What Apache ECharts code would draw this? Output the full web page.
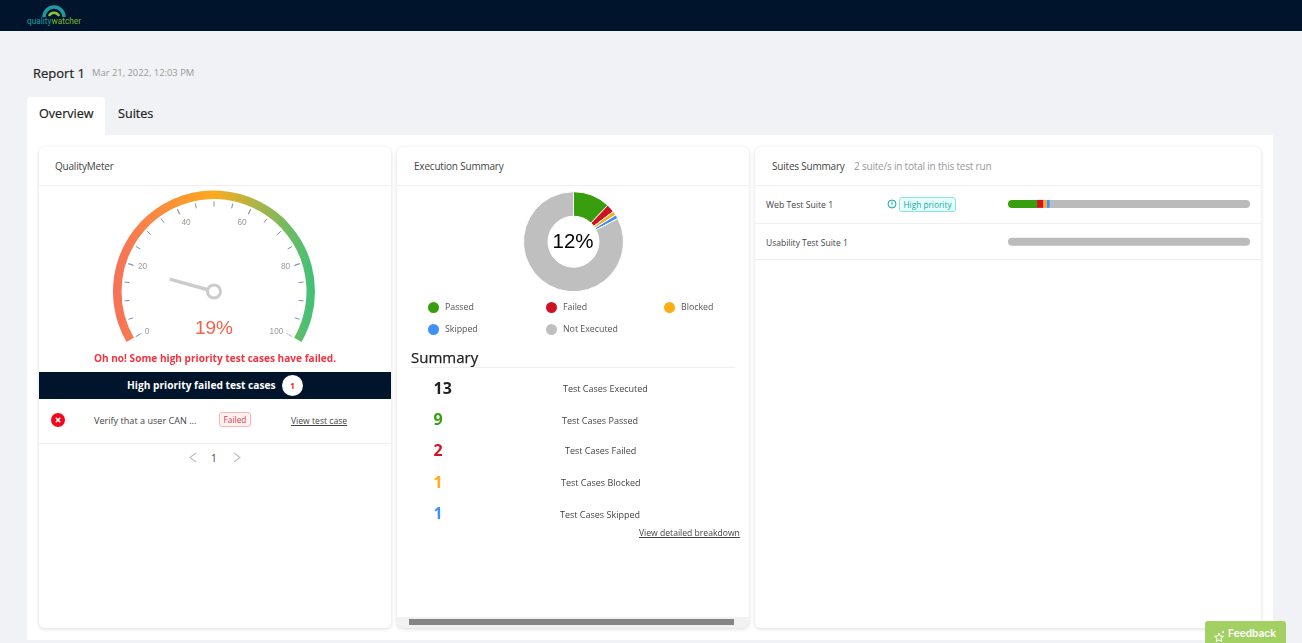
<!DOCTYPE html>
<html><head><meta charset="utf-8">
<script src="https://cdn.jsdelivr.net/npm/echarts@6/dist/echarts.min.js"></script>
<style>
html,body{margin:0;padding:0;width:1302px;height:643px;overflow:hidden;background:#f0f2f5;font-family:"Open Sans","Noto Sans",sans-serif;color:#333}
.a{position:absolute;white-space:nowrap}
.card{position:absolute;background:#fff;border-radius:6px;box-shadow:0 1px 4px rgba(0,0,0,.14);top:147px;height:481px}
.hr{position:absolute;height:1px;background:#efefef}
.t{font-size:10px;color:#444}
.u{text-decoration:underline}
.h{font-size:10px;letter-spacing:-.2px;color:#444}
</style></head><body>
<div class="a" style="left:0;top:0;width:1302px;height:31px;background:#00152b"></div>
<svg class="a" style="left:42px;top:5px" width="24" height="13" viewBox="0 0 24 13"><path d="M2 12A10 10 0 0 1 22 12" fill="none" stroke="#1f9aa3" stroke-width="3.4"/><path d="M7 11A5.5 5.5 0 0 1 17 11" fill="none" stroke="#8cc63f" stroke-width="2.4"/></svg>
<div class="a" style="left:27px;top:16px;font-size:8.3px;font-family:Roboto,sans-serif;color:#1f9aa3">quality<span style="color:#7fba2c">watcher</span></div>

<div class="a" style="left:33px;top:64px;font-size:13px;color:#222;-webkit-text-stroke:.2px #222">Report 1</div>
<div class="a" style="left:92px;top:66px;font-size:9.4px;color:#999">Mar 21, 2022, 12:03 PM</div>

<div class="a" style="left:27px;top:135px;width:1246px;height:505px;background:#fff"></div>
<div class="a" style="left:27px;top:97px;width:78px;height:38px;background:#fff;border-radius:4px 4px 0 0"></div>
<div class="a" style="left:39px;top:105px;font-size:12.6px;color:#222;-webkit-text-stroke:.2px #222">Overview</div>
<div class="a" style="left:118px;top:105px;font-size:12.6px;color:#222;-webkit-text-stroke:.2px #222">Suites</div>

<div class="card" style="left:39px;width:352px"></div>
<div class="card" style="left:397px;width:352px;background:#f1f1f1"></div>
<div class="a" style="left:397px;top:147px;width:352px;height:470px;background:#fff;border-radius:6px 6px 0 0"></div>
<div class="a" style="left:409px;top:619px;width:325px;height:6px;background:#858585"></div>
<div class="card" style="left:755px;width:506px"></div>

<div class="hr" style="left:39px;top:185px;width:352px"></div>
<div class="hr" style="left:397px;top:185px;width:352px"></div>
<div class="hr" style="left:755px;top:185px;width:506px"></div>

<div class="a h" style="left:55px;top:159px">QualityMeter</div>
<div class="a h" style="left:414px;top:159px">Execution Summary</div>
<div class="a h" style="left:772px;top:159px">Suites Summary</div>
<div class="a h" style="left:854px;top:159px;color:#999">2 suite/s in total in this test run</div>

<div id="gauge" class="a" style="left:39px;top:186px;width:352px;height:170px"></div>
<div id="pie" class="a" style="left:398px;top:186px;width:350px;height:154px"></div>
<div id="bars" class="a" style="left:1000px;top:185px;width:258px;height:80px"></div>

<div class="a" style="left:39px;top:351px;width:352px;text-align:center;font-size:10.1px;font-weight:700;color:#f5333f">Oh no! Some high priority test cases have failed.</div>
<div class="a" style="left:39px;top:372px;width:352px;height:27px;background:#00152b"></div>
<div class="a" style="left:127px;top:378px;font-size:10.2px;font-weight:700;color:#fff">High priority failed test cases</div>
<div class="a" style="left:282px;top:375px;width:21px;height:21px;border-radius:50%;background:#fff;color:#f5222d;font-size:8px;font-weight:700;text-align:center;line-height:21px">1</div>
<svg class="a" style="left:51px;top:413px" width="14" height="14"><circle cx="7" cy="7" r="7" fill="#f5051d"/><path d="M4.8 4.8L9.2 9.2M9.2 4.8L4.8 9.2" stroke="#fff" stroke-width="1.6"/></svg>
<div class="a t" style="left:94px;top:414px;font-size:9.1px">Verify that a user CAN ...</div>
<div class="a" style="left:219px;top:412px;width:30px;height:13px;border:1px solid #ffb3b8;background:#fff1f0;border-radius:3px;color:#d9404c;font-size:8.3px;text-align:center;line-height:13px">Failed</div>
<div class="a t u" style="left:291px;top:415px;font-size:8.6px">View test case</div>
<div class="hr" style="left:39px;top:443px;width:352px"></div>
<svg class="a" style="left:188px;top:452px" width="10" height="11"><path d="M8 1L2 5.5L8 10" fill="none" stroke="#bbb" stroke-width="1.1"/></svg>
<div class="a" style="left:211px;top:451px;font-size:10px;color:#444">1</div>
<svg class="a" style="left:232px;top:452px" width="10" height="11"><path d="M2 1L8 5.5L2 10" fill="none" stroke="#bbb" stroke-width="1.1"/></svg>

<div class="a" style="left:411px;top:347px;font-size:15px;color:#222;-webkit-text-stroke:.25px #222">Summary</div>
<div class="hr" style="left:411px;top:367px;width:324px"></div>
<div id="summary"></div>
<div class="a t u" style="left:639px;top:527px;font-size:8.6px">View detailed breakdown</div>

<div class="a t" style="left:766px;top:199px;font-size:8.7px">Web Test Suite 1</div>
<div class="a t" style="left:766px;top:237px;font-size:8.5px">Usability Test Suite 1</div>
<svg class="a" style="left:887px;top:199px" width="10" height="10"><circle cx="5" cy="5" r="4" fill="none" stroke="#13a8a8" stroke-width="1"/><path d="M5 2.6V5.6M5 6.6V7.5" stroke="#13a8a8" stroke-width="1"/></svg>
<div class="a" style="left:899px;top:197px;width:55px;height:13px;border:1px solid #87e8de;background:#e6fffb;border-radius:3px;color:#13a8a8;font-size:8.3px;text-align:center;line-height:13px">High priority</div>
<div class="hr" style="left:755px;top:223px;width:506px"></div>
<div class="hr" style="left:755px;top:259px;width:506px"></div>

<div class="a" style="left:1205px;top:621px;width:81px;height:22px;background:#a3d063;border-radius:3px 3px 0 0"></div>
<svg class="a" style="left:1214px;top:630px" width="12" height="12" viewBox="0 0 12 12"><path d="M5 3L6.2 6L9.5 6.3L7 8.4L7.8 11.5L5 9.9L2.2 11.5L3 8.4L.5 6.3L3.8 6Z" fill="none" stroke="#fff"/><circle cx="9" cy="2" r="1" fill="#fff"/></svg>
<div class="a" style="left:1228px;top:627px;font-size:10.2px;font-weight:600;color:#fff;font-family:Inter,sans-serif">Feedback</div>

<script>
// ---- Data ----
var qualityScore = 19;
var executedPercent = '12%';
var statusNames = ['Passed', 'Failed', 'Blocked', 'Skipped', 'Not Executed'];
var statusCounts = [9, 2, 1, 1, 62];
var statusColors = ['#389e0d', '#cf1322', '#faad14', '#4091f7', '#bfbfbf'];
var suiteNames = ['Web Test Suite 1', 'Usability Test Suite 1'];
var suitePassed = [12, 0];
var suiteFailed = [2.7, 0];
var suiteBlocked = [1.3, 0];
var suiteSkipped = [1.3, 0];
var suiteNotExecuted = [82.7, 100];
var summaryLabels = ['Test Cases Executed', 'Test Cases Passed', 'Test Cases Failed', 'Test Cases Blocked', 'Test Cases Skipped'];
var summaryValues = [13, 9, 2, 1, 1];
var summaryColors = ['#222', '#389e0d', '#cf1322', '#faad14', '#4091f7'];
// ---- Layout ----
var summaryNumX = [433.5, 433.5, 433.5, 433.5, 433.5];
var summaryTextX = [563, 562, 565, 561, 560];
var summaryY = [389, 420, 451, 483, 514];
var summaryTextY = [388, 420, 450, 482, 514];
var legendPos = [[28, 114], [146, 114], [264, 114], [28, 136], [146, 136]];

var html = '';
summaryValues.forEach(function (v, i) {
  html += '<div class="a" style="left:' + summaryNumX[i] + 'px;top:' + (summaryY[i] - 12) + 'px;font-size:16px;font-weight:700;color:' + summaryColors[i] + '">' + v + '</div>';
  html += '<div class="a t" style="left:' + summaryTextX[i] + 'px;top:' + (summaryTextY[i] - 6) + 'px;font-size:9px">' + summaryLabels[i] + '</div>';
});
document.getElementById('summary').innerHTML = html;

// Gauge
echarts.init(document.getElementById('gauge')).setOption({
  animation: false,
  series: [{
    type: 'gauge', center: [175, 105.5], radius: 101, startAngle: 210, endAngle: -30,
    min: 0, max: 100, splitNumber: 5,
    axisLine: { lineStyle: { width: 8.5, color: [[1, new echarts.graphic.LinearGradient(0, 0, 1, 0, [
      { offset: 0, color: '#f6705a' }, { offset: .5, color: '#fdab1f' }, { offset: 1, color: '#3ec17a' }])]] } },
    axisTick: { splitNumber: 4, distance: 2.5, length: 5, lineStyle: { color: '#7d93ad', width: 1 } },
    splitLine: { distance: 2, length: 7, lineStyle: { color: '#d3d3d3', width: 1 } },
    axisLabel: { distance: 12, color: '#999', fontSize: 8.2, fontFamily: 'Liberation Sans' },
    pointer: { length: 46, width: 3.5, offsetCenter: [0, 0], icon: 'rect', itemStyle: { color: '#cccccc' } },
    anchor: { show: true, showAbove: true, size: 13, itemStyle: { color: '#fff', borderColor: '#cccccc', borderWidth: 3 } },
    title: { show: false },
    detail: { valueAnimation: false, formatter: '{value}%', offsetCenter: [0, 37], color: '#f4604a', fontSize: 19, fontWeight: 300, fontFamily: 'Liberation Sans' },
    data: [{ value: qualityScore }]
  }]
});

// Donut with one positioned legend per item
echarts.init(document.getElementById('pie')).setOption({
  animation: false,
  color: statusColors,
  legend: statusNames.map(function (n, i) {
    return { data: [n], left: legendPos[i][0], top: legendPos[i][1], padding: 0, icon: 'circle', itemWidth: 13, itemHeight: 13, itemGap: 4,
      textStyle: { color: '#555', fontSize: 8.8, fontFamily: 'Open Sans', padding: [0, 0, 3, 0] } };
  }),
  graphic: { type: 'text', left: 'center', top: 46, style: { text: executedPercent, fontSize: 20.5, fontFamily: 'Liberation Sans', fill: '#000' } },
  series: [{
    type: 'pie', center: [175.5, 55.7], radius: [25.5, 50], startAngle: 90, silent: true,
    label: { show: false }, labelLine: { show: false },
    itemStyle: { borderColor: '#fff', borderWidth: 1 },
    data: statusNames.map(function (n, i) { return { name: n, value: statusCounts[i] }; })
  }]
});

// Suite progress bars
var suiteRows = [suitePassed, suiteFailed, suiteBlocked, suiteSkipped, suiteNotExecuted];
echarts.init(document.getElementById('bars')).setOption({
  animation: false,
  grid: { left: 8, right: 8, top: 0, height: 75.6 },
  xAxis: { type: 'value', min: 0, max: 100, show: false },
  yAxis: { type: 'category', data: suiteNames, inverse: true, show: false },
  series: suiteRows.map(function (vals, s) {
    return {
      type: 'bar', name: statusNames[s], stack: 'suite', barWidth: 8, silent: true,
      itemStyle: { color: statusColors[s] === '#bfbfbf' ? '#bbbbbb' : statusColors[s] },
      data: vals.map(function (v, r) {
        var rowVals = suiteRows.map(function (x) { return x[r]; });
        var first = rowVals.findIndex(function (x) { return x > 0; });
        var last = rowVals.length - 1;
        var rad = [s === first ? 4 : 0, s === last ? 4 : 0, s === last ? 4 : 0, s === first ? 4 : 0];
        return { value: v, itemStyle: { borderRadius: rad } };
      })
    };
  })
});
</script>
</body></html>
